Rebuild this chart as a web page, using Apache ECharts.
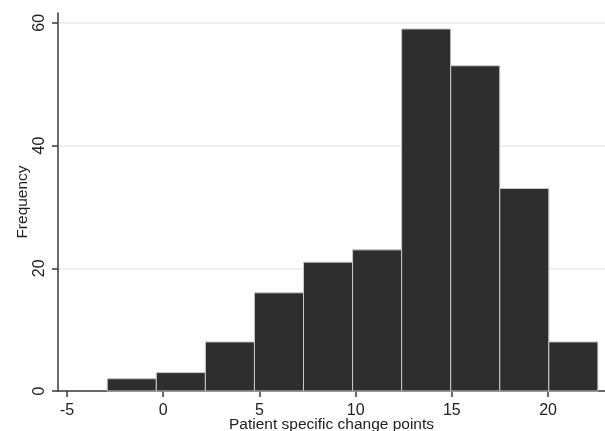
<!DOCTYPE html>
<html><head><meta charset="utf-8">
<script src="https://cdn.jsdelivr.net/npm/echarts@6/dist/echarts.min.js"></script>
<style>html,body{margin:0;padding:0;background:#fff}#c{width:605px;height:431px}</style>
</head><body><div id="c"></div>
<script>
// Histogram bin edges (patient specific change points)
const binEdges = [-2.91, -0.36, 2.19, 4.74, 7.29, 9.84, 12.39, 14.94, 17.49, 20.04, 22.59];
// Frequency per bin
const frequencies = [2, 3, 8, 16, 21, 23, 59, 53, 33, 8];
const xTicks = [-5, 0, 5, 10, 15, 20];
const yTicks = [0, 20, 40, 60];

const data = frequencies.map((f, i) => [binEdges[i], binEdges[i + 1], f]);

const chart = echarts.init(document.getElementById('c'), null, {renderer: 'canvas'});
chart.setOption({
  animation: false,
  backgroundColor: '#fff',
  grid: {left: 58, right: 0, top: 13, bottom: 40, containLabel: false, outerBoundsMode: 'none'},
  xAxis: {
    type: 'value', min: -5.47, max: 22.96,
    name: 'Patient specific change points', nameLocation: 'middle', nameGap: 26, nameMoveOverlap: false,
    nameTextStyle: {fontFamily: 'Liberation Sans', fontSize: 15.5, color: '#222'},
    axisLine: {show: true, onZero: false, lineStyle: {color: '#3a3a3a', width: 1.5}},
    axisTick: {show: true, length: 6, customValues: xTicks, lineStyle: {color: '#3a3a3a', width: 1.5}},
    axisLabel: {customValues: xTicks, margin: 12, fontFamily: 'Liberation Sans', fontSize: 16, color: '#222'},
    splitLine: {show: false}
  },
  yAxis: {
    type: 'value', min: 0, max: 61.6,
    name: 'Frequency', nameLocation: 'middle', nameGap: 27, nameMoveOverlap: false,
    nameTextStyle: {fontFamily: 'Liberation Sans', fontSize: 15.5, color: '#222'},
    axisLine: {show: true, onZero: false, lineStyle: {color: '#3a3a3a', width: 1.5}},
    axisTick: {show: true, length: 6, customValues: yTicks, lineStyle: {color: '#3a3a3a', width: 1.5}},
    axisLabel: {customValues: yTicks, rotate: 90, margin: 10, fontFamily: 'Liberation Sans', fontSize: 16, color: '#222'},
    splitLine: {show: true, customValues: yTicks, lineStyle: {color: '#ebebeb', width: 1.5}}
  },
  series: [{
    type: 'custom',
    data: data,
    encode: {x: [0, 1], y: 2},
    clip: false,
    renderItem: function (params, api) {
      const p0 = api.coord([api.value(0), api.value(2)]);
      const p1 = api.coord([api.value(1), 0]);
      return {
        type: 'rect',
        shape: {x: p0[0], y: p0[1], width: p1[0] - p0[0], height: p1[1] - p0[1]},
        style: {fill: '#2e2e2e', stroke: '#c9c9c9', lineWidth: 1}
      };
    }
  }]
});
</script></body></html>
